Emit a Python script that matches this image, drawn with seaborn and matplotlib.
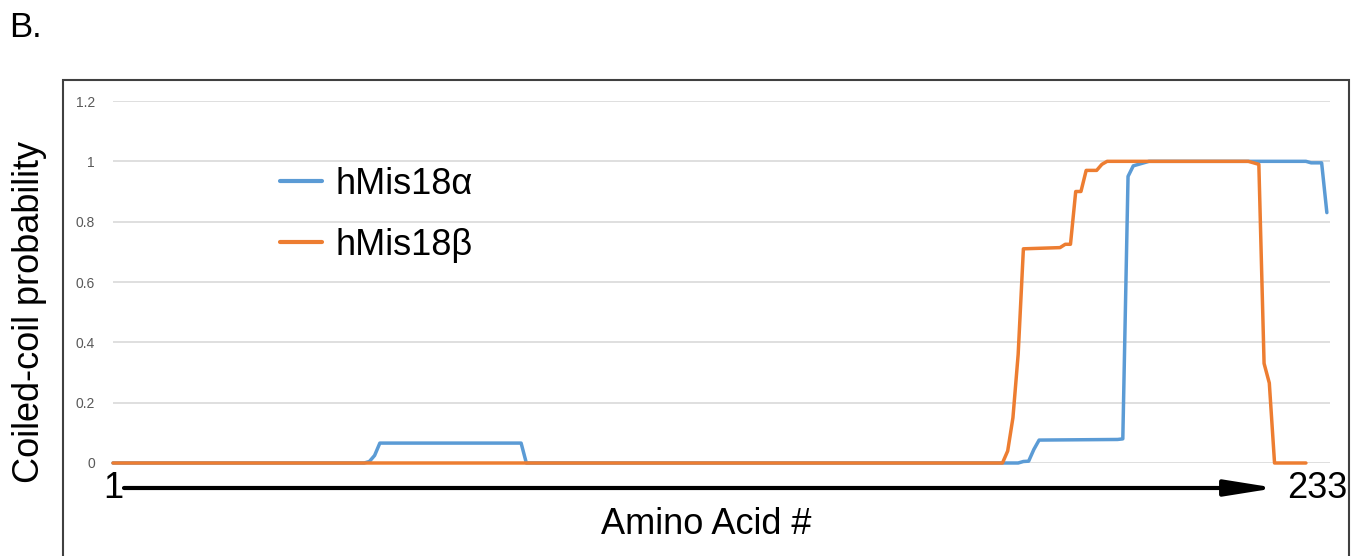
import pandas as pd
import matplotlib.pyplot as plt
import seaborn as sns
from matplotlib.patches import Rectangle

# Coiled-coil probability per residue (vertices of the traces)
alpha_pos = [1, 49, 50, 51, 52, 79, 80, 174, 175, 176, 177, 178, 193, 194,
             195, 196, 197, 199, 229, 230, 232, 233]
alpha_prob = [0, 0, 0.005, 0.025, 0.066, 0.066, 0, 0, 0.005, 0.006, 0.045,
              0.076, 0.078, 0.08, 0.95, 0.985, 0.99, 1.0, 1.0, 0.995, 0.995, 0.83]

beta_pos = [1, 171, 172, 173, 174, 175, 182, 183, 184, 185, 186, 187, 189,
            190, 191, 218, 219, 220, 221, 222, 223, 229]
beta_prob = [0, 0, 0.04, 0.15, 0.36, 0.71, 0.714, 0.725, 0.725, 0.9, 0.9,
             0.97, 0.97, 0.99, 1.0, 1.0, 0.995, 0.99, 0.33, 0.265, 0, 0]

series_names = ["hMis18\u03b1", "hMis18\u03b2"]
yticks = [0, 0.2, 0.4, 0.6, 0.8, 1, 1.2]
ytick_labels = ["0", "0.2", "0.4", "0.6", "0.8", "1", "1.2"]

df = pd.concat([
    pd.DataFrame({"pos": alpha_pos, "prob": alpha_prob, "protein": series_names[0]}),
    pd.DataFrame({"pos": beta_pos, "prob": beta_prob, "protein": series_names[1]}),
])

sns.set_theme(style="white")
plt.rcParams["font.family"] = ["Liberation Sans", "DejaVu Sans"]
plt.rcParams["text.color"] = "black"

W, H = 1361, 556
fig = plt.figure(figsize=(W / 100, H / 100), dpi=100)
ax = fig.add_axes([113 / W, (H - 463) / H, (1330 - 113) / W, (463 - 101) / H])

palette = {series_names[0]: "#5B9BD5", series_names[1]: "#ED7D31"}
sns.lineplot(data=df, x="pos", y="prob", hue="protein", palette=palette,
             linewidth=2.5, ax=ax, estimator=None, sort=False)
for line in ax.lines:
    line.set_clip_on(False)
    line.set_solid_joinstyle("round")

ax.set_xlim(1, 233.6)
ax.set_ylim(0, 1.2)
ax.set_yticks(yticks)
ax.set_yticklabels(ytick_labels)
ax.set_xticks([])
ax.tick_params(axis="y", length=0, pad=13, labelsize=10, labelcolor="#595959")
for s in ax.spines.values():
    s.set_visible(False)
ax.grid(axis="y", color="#d9d9d9", linewidth=1.2)
ax.set_axisbelow(True)
ax.set_xlabel("")
ax.set_ylabel("")

handles, labels = ax.get_legend_handles_labels()
for h in handles:
    h.set_linewidth(3)
leg = ax.legend(handles, labels, loc="center left", frameon=False, fontsize=26,
                bbox_to_anchor=(280 / W, (H - 215) / H), bbox_transform=fig.transFigure,
                borderpad=0, borderaxespad=0, handlelength=1.15, handletextpad=0.4,
                labelspacing=0.72)
for t in leg.get_texts():
    t.set_color("black")

# outer frame
fig.patches.append(Rectangle((63 / W, -0.05), (1349 - 63) / W, (H - 80) / H + 0.05,
                             transform=fig.transFigure, fill=False,
                             edgecolor="#404040", linewidth=1.5))

# panel letter and axis annotations
fig.text(9 / W, (H - 37) / H, "B.", fontsize=25, va="baseline", ha="left")
fig.text(30 / W, (H - 312) / H, "Coiled-coil probability", fontsize=26,
         rotation=90, va="center", ha="center")
fig.text(706 / W, (H - 525) / H, "Amino Acid #", fontsize=26, va="center", ha="center")
fig.text(113 / W, (H - 488) / H, "1", fontsize=26, va="center", ha="center")
fig.text(1317 / W, (H - 488) / H, "233", fontsize=26, va="center", ha="center")
ax.annotate("", xy=(1276 / W, (H - 488) / H), xytext=(124 / W, (H - 488) / H),
            xycoords="figure fraction", textcoords="figure fraction",
            arrowprops=dict(arrowstyle="-|>,head_length=2.5,head_width=0.4",
                            color="black", linewidth=3, shrinkA=0, shrinkB=0))

fig.savefig("out.png", dpi=100)
